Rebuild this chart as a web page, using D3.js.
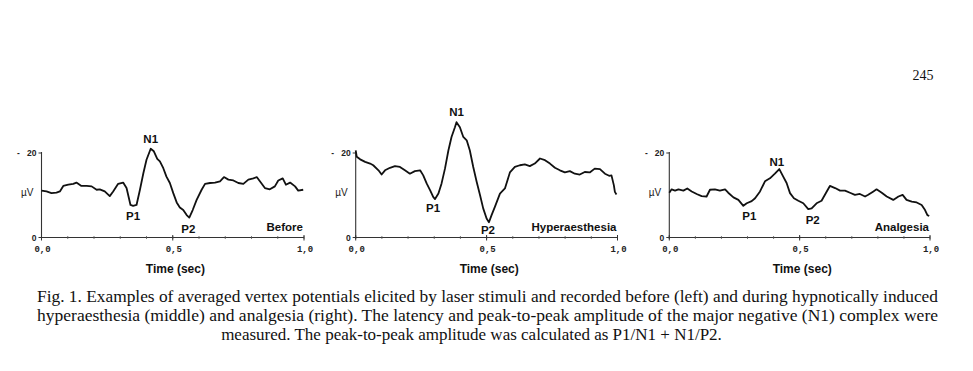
<!DOCTYPE html>
<html>
<head>
<meta charset="utf-8">
<script src="https://cdn.jsdelivr.net/npm/d3@7"></script>
<style>
  html, body { margin: 0; padding: 0; background: #fff; }
  svg { display: block; }
</style>
</head>
<body>
<svg id="chart" width="973" height="371"></svg>
<script>
// ---- data ----
const panelNames = ["Before", "Hyperaesthesia", "Analgesia"];
const xTickValues = [0, 0.5, 1.0];
const xTickLabels = ["0,0", "0,5", "1,0"];
const yTickValues = [0, 20];
const yTickLabels = ["0", "20"];
const peakLabels = ["N1", "P1", "P2"];

const beforeT = [0,.019,.038,.057,.070,.083,.102,.121,.133,.152,.172,.191,.210,.222,.241,.260,.273,.292,.311,.324,.339,.349,.362,.375,.388,.400,.416,.428,.441,.451,.464,.476,.489,.502,.515,.527,.540,.553,.563,.576,.591,.610,.623,.642,.661,.680,.695,.712,.731,.750,.769,.788,.807,.820,.832,.851,.870,.889,.902,.919,.931,.947,.966,.978,.997];
const beforeV = [11.1,10.9,10.5,10.6,10.9,12.2,12.5,12.7,13.0,12.2,12.2,12.1,11.3,11.4,10.9,9.8,10.9,12.7,13.0,11.7,7.7,7.5,7.7,11.3,15.2,18.4,21.0,20.4,18.6,18.0,16.4,14.4,12.9,10.5,8.3,7.1,6.5,5.3,4.7,6.5,8.9,11.3,12.7,12.9,13.0,13.3,14.3,13.7,13.5,12.9,12.7,13.7,14.0,14.3,13.3,11.7,11.4,12.1,13.5,14.0,12.5,13.0,12.1,11.1,11.3];

const hyperT = [0,.004,.017,.036,.055,.067,.087,.099,.112,.131,.150,.169,.188,.207,.226,.246,.258,.271,.284,.296,.303,.316,.328,.341,.354,.366,.379,.385,.398,.411,.424,.436,.449,.462,.475,.487,.500,.509,.519,.532,.551,.570,.589,.608,.627,.646,.665,.684,.704,.723,.742,.761,.780,.799,.818,.837,.856,.875,.894,.913,.933,.952,.968,.977,.986,.990,.996];
const hyperV = [20.6,19.1,18.5,17.9,17.5,17.1,15.9,14.9,15.9,16.5,16.9,16.7,15.9,15.1,15.7,15.9,14.7,12.8,11.2,9.6,9.1,10.4,12.8,16.3,20.6,23.8,26.1,27.3,26.1,23.8,23.0,20.6,16.7,13.2,10.0,6.9,4.5,3.6,5.3,7.3,10.4,11.6,15.4,16.7,17.1,17.3,16.9,17.5,18.7,18.3,17.5,16.5,15.9,15.4,15.7,15.1,14.9,15.5,15.4,16.3,16.2,15.1,14.6,14.7,12.4,10.8,10.2];

const analgT = [0,.009,.022,.035,.054,.069,.086,.105,.124,.143,.156,.175,.194,.214,.226,.246,.265,.284,.297,.316,.329,.348,.367,.386,.405,.422,.437,.450,.463,.478,.495,.514,.533,.546,.565,.584,.604,.616,.636,.655,.674,.693,.712,.731,.751,.763,.783,.795,.815,.834,.859,.879,.895,.910,.930,.949,.968,.981,.990,.997];
const analgV = [10.6,11.4,11.1,11.4,11.1,11.6,10.9,10.3,9.8,9.7,11.3,11.4,11.1,11.4,10.6,9.5,8.9,7.5,8.1,8.6,9.3,10.9,13.3,14.0,15.1,16.2,14.4,12.9,10.5,9.3,8.7,8.1,6.7,6.9,8.1,8.7,10.9,12.2,11.7,11.1,11.1,10.6,10.1,10.3,9.7,10.1,10.9,11.4,10.6,9.7,8.9,9.7,10.1,8.9,8.5,8.3,7.7,6.5,5.3,5.1];

// peak times (N1, P1, P2) per panel
const beforePeaks = [0.416, 0.349, 0.563];
const hyperPeaks = [0.385, 0.303, 0.509];
const analgPeaks = [0.422, 0.284, 0.533];

const captionLines = [
  "Fig. 1. Examples of averaged vertex potentials elicited by laser stimuli and recorded before (left) and during hypnotically induced",
  "hyperaesthesia (middle) and analgesia (right). The latency and peak-to-peak amplitude of the major negative (N1) complex were",
  "measured. The peak-to-peak amplitude was calculated as P1/N1 + N1/P2."
];
const pageNumber = "245";

// ---- layout ----
const panels = [
  { name: panelNames[0], t: beforeT, v: beforeV, peaks: beforePeaks, x0: 41.5, x1: 304,
    lab: { N1: [0, -6], P1: [0, 14], P2: [-1, 15] } },
  { name: panelNames[1], t: hyperT, v: hyperV, peaks: hyperPeaks, x0: 355.7, x1: 617.5,
    lab: { N1: [0, -6], P1: [-2, 13], P2: [-1, 12] } },
  { name: panelNames[2], t: analgT, v: analgV, peaks: analgPeaks, x0: 669.3, x1: 930,
    lab: { N1: [-2.5, -3], P1: [6, 14.5], P2: [4.5, 15] } }
];

const svg = d3.select("#chart");
const y = d3.scaleLinear().domain([0, 20]).range([237.5, 153]);

panels.forEach(p => {
  const x = d3.scaleLinear().domain([0, 1]).range([p.x0, p.x1]);
  const g = svg.append("g");

  // x axis line
  g.append("line").attr("x1", x(0) - 2).attr("x2", x(1))
    .attr("y1", y(0)).attr("y2", y(0))
    .attr("stroke", "#333").attr("stroke-width", 1.1);
  // minor ticks
  d3.range(0, 1.001, 0.1).forEach(tv => {
    g.append("line").attr("x1", x(tv)).attr("x2", x(tv))
      .attr("y1", y(0) - 1.5).attr("y2", y(0) + 1.5)
      .attr("stroke", "#555").attr("stroke-width", 0.8);
  });
  xTickValues.forEach((tv, i) => {
    g.append("line").attr("x1", x(tv)).attr("x2", x(tv))
      .attr("y1", y(0) - 2.5).attr("y2", y(0) + 3)
      .attr("stroke", "#333").attr("stroke-width", 1);
    g.append("text").attr("x", x(tv) + 1).attr("y", y(0) + 14)
      .attr("text-anchor", "middle")
      .attr("font-family", "Liberation Mono, DejaVu Sans Mono, monospace")
      .attr("font-weight", "bold").attr("font-size", 9).attr("fill", "#222")
      .text(xTickLabels[i]);
  });

  // y axis line
  g.append("line").attr("x1", x(0)).attr("x2", x(0))
    .attr("y1", y(0) + 1).attr("y2", y(20) - 1)
    .attr("stroke", "#333").attr("stroke-width", 1.1);
  yTickValues.forEach((yv, i) => {
    g.append("line").attr("x1", x(0) - 3).attr("x2", x(0))
      .attr("y1", y(yv)).attr("y2", y(yv))
      .attr("stroke", "#333").attr("stroke-width", 1);
    g.append("text").attr("x", x(0) - 5).attr("y", y(yv) + 3)
      .attr("text-anchor", "end")
      .attr("font-family", "Liberation Sans, Arial, sans-serif")
      .attr("font-weight", "bold").attr("font-size", 8.5).attr("fill", "#222")
      .text(yTickLabels[i]);
  });
  // leading dash before the top tick label
  g.append("text").attr("x", x(0) - 23).attr("y", y(20) + 3)
    .attr("text-anchor", "middle")
    .attr("font-family", "Liberation Sans, Arial, sans-serif")
    .attr("font-weight", "bold").attr("font-size", 8.5).attr("fill", "#222")
    .text("-");
  g.append("text").attr("x", x(0) - 8).attr("y", y(10.8) + 4)
    .attr("text-anchor", "end")
    .attr("font-family", "Liberation Sans, Arial, sans-serif")
    .attr("font-size", 10).attr("fill", "#222")
    .text("µV");

  // x axis title
  g.append("text").attr("x", x(0.51)).attr("y", 273)
    .attr("text-anchor", "middle")
    .attr("font-family", "Liberation Sans, Arial, sans-serif")
    .attr("font-weight", "bold").attr("font-size", 12).attr("fill", "#111")
    .text("Time (sec)");

  // curve
  const pts = p.t.map((tv, i) => [tv, p.v[i]]);
  const line = d3.line().x(d => x(d[0])).y(d => y(d[1])).curve(d3.curveLinear);
  g.append("path").datum(pts).attr("d", line)
    .attr("fill", "none").attr("stroke", "#111").attr("stroke-width", 1.8)
    .attr("stroke-linejoin", "round");

  // peak labels
  const valueAt = tv => {
    let best = 0, bd = 1e9;
    p.t.forEach((tt, i) => { const d = Math.abs(tt - tv); if (d < bd) { bd = d; best = i; } });
    return p.v[best];
  };
  peakLabels.forEach((lab, i) => {
    const tv = p.peaks[i];
    const off = p.lab[lab];
    g.append("text").attr("x", x(tv) + off[0]).attr("y", y(valueAt(tv)) + off[1])
      .attr("text-anchor", "middle")
      .attr("font-family", "Liberation Sans, Arial, sans-serif")
      .attr("font-weight", "bold").attr("font-size", 11.5).attr("fill", "#111")
      .text(lab);
  });

  // condition label
  g.append("text").attr("x", x(1) - 1).attr("y", 231)
    .attr("text-anchor", "end")
    .attr("font-family", "Liberation Sans, Arial, sans-serif")
    .attr("font-weight", "bold").attr("font-size", 11.5).attr("fill", "#111")
    .text(p.name);
});

// page number
svg.append("text").attr("x", 923).attr("y", 80)
  .attr("text-anchor", "middle")
  .attr("font-family", "Liberation Serif, Times New Roman, serif")
  .attr("font-size", 14).attr("fill", "#111")
  .text(pageNumber);

// caption
const capY = [302, 321, 340];
captionLines.forEach((s, i) => {
  const t = svg.append("text")
    .attr("y", capY[i])
    .attr("font-family", "Liberation Serif, Times New Roman, serif")
    .attr("font-size", 17).attr("fill", "#111")
    .text(s);
  if (i < 2) {
    t.attr("x", 37).attr("textLength", 901).attr("lengthAdjust", "spacingAndGlyphs");
  } else {
    t.attr("x", 471.5).attr("text-anchor", "middle");
  }
});
</script>
</body>
</html>
